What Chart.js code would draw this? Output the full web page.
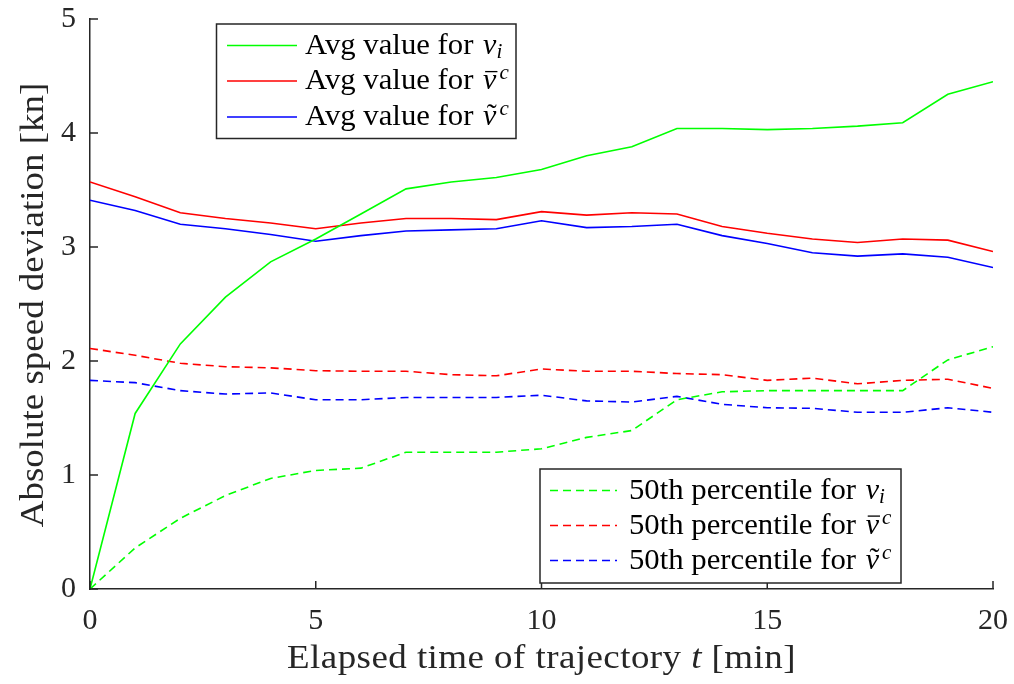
<!DOCTYPE html>
<html>
<head>
<meta charset="utf-8">
<script src="https://cdn.jsdelivr.net/npm/chart.js@4.4.1/dist/chart.umd.min.js"></script>
<style>
  html, body { margin: 0; padding: 0; background: #fff; }
  #wrap { width: 1014px; height: 684px; }
</style>
</head>
<body>
<div id="wrap"><canvas id="c" width="1014" height="684"></canvas></div>
<script>
// ---------- data ----------
const timeMin = [0,1,2,3,4,5,6,7,8,9,10,11,12,13,14,15,16,17,18,19,20];
const avgVi     = [0, 1.54, 2.15, 2.56, 2.87, 3.07, 3.29, 3.51, 3.57, 3.61, 3.68, 3.80, 3.88, 4.04, 4.04, 4.03, 4.04, 4.06, 4.09, 4.34, 4.45];
const avgVbar   = [3.57, 3.44, 3.30, 3.25, 3.21, 3.16, 3.21, 3.25, 3.25, 3.24, 3.31, 3.28, 3.30, 3.29, 3.18, 3.12, 3.07, 3.04, 3.07, 3.06, 2.96];
const avgVtilde = [3.41, 3.32, 3.20, 3.16, 3.11, 3.05, 3.10, 3.14, 3.15, 3.16, 3.23, 3.17, 3.18, 3.20, 3.10, 3.03, 2.95, 2.92, 2.94, 2.91, 2.82];
const p50Vi     = [0, 0.36, 0.62, 0.82, 0.97, 1.04, 1.06, 1.20, 1.20, 1.20, 1.23, 1.33, 1.39, 1.66, 1.73, 1.74, 1.74, 1.74, 1.74, 2.01, 2.125];
const p50Vbar   = [2.11, 2.05, 1.98, 1.95, 1.94, 1.915, 1.91, 1.91, 1.88, 1.87, 1.93, 1.91, 1.91, 1.89, 1.88, 1.83, 1.85, 1.80, 1.83, 1.84, 1.76];
const p50Vtilde = [1.83, 1.81, 1.74, 1.71, 1.72, 1.66, 1.66, 1.68, 1.68, 1.68, 1.70, 1.65, 1.64, 1.69, 1.62, 1.59, 1.585, 1.55, 1.55, 1.59, 1.55];

const xTickValues = [0, 5, 10, 15, 20];
const yTickValues = [0, 1, 2, 3, 4, 5];

const avgLabelText = 'Avg value for ';
const p50LabelText = '50th percentile for ';
const symbolKinds = ['vi', 'vbar', 'vtilde'];
const seriesColors = ['#00ff00', '#ff0000', '#0000ff'];

const xTitleParts = [['Elapsed time of trajectory ', 'normal'], ['t', 'italic'], [' [min]', 'normal']];
const yTitleText = 'Absolute speed deviation [kn]';

// ---------- styling ----------
const FONT = '"Liberation Serif", "Times New Roman", serif';
const AXIS_COLOR = '#262626';
const DASH = [8, 5];
const TITLE_STRETCH = 1.12;
const LEGEND_STRETCH = 1.06;

function series(values, colorIdx, dashed) {
  return {
    data: timeMin.map((t, i) => ({ x: t, y: values[i] })),
    borderColor: seriesColors[colorIdx],
    backgroundColor: seriesColors[colorIdx],
    borderWidth: 1.6,
    borderDash: dashed ? DASH : [],
    pointRadius: 0,
    tension: 0,
    fill: false
  };
}

function drawMath(ctx, x, baseline, kind, size) {
  ctx.textAlign = 'left';
  ctx.textBaseline = 'alphabetic';
  ctx.font = `italic ${size}px ${FONT}`;
  ctx.fillText('v', x, baseline);
  const w = ctx.measureText('v').width;
  if (kind === 'vi') {
    ctx.font = `italic ${Math.round(size * 0.7)}px ${FONT}`;
    ctx.fillText('i', x + w, baseline + 4);
  } else {
    if (kind === 'vbar') {
      ctx.save();
      ctx.strokeStyle = '#000';
      ctx.lineWidth = 1.3;
      ctx.beginPath();
      ctx.moveTo(x + 2, baseline - size * 0.58);
      ctx.lineTo(x + w + 1, baseline - size * 0.58);
      ctx.stroke();
      ctx.restore();
    } else {
      ctx.font = `${size}px ${FONT}`;
      ctx.textAlign = 'center';
      ctx.fillText('\u02DC', x + w / 2 + 2, baseline - 1);
      ctx.textAlign = 'left';
    }
    ctx.font = `italic ${Math.round(size * 0.7)}px ${FONT}`;
    ctx.fillText('c', x + w + 3, baseline - 10);
  }
}

function drawLegendBox(ctx, box, label, dashed, lineX0, lineX1, textX, rowYs) {
  ctx.save();
  ctx.fillStyle = '#fff';
  ctx.fillRect(box.x, box.y, box.w, box.h);
  ctx.strokeStyle = AXIS_COLOR;
  ctx.lineWidth = 1.5;
  ctx.strokeRect(box.x, box.y, box.w, box.h);
  symbolKinds.forEach((kind, i) => {
    const y = rowYs[i];
    ctx.strokeStyle = seriesColors[i];
    ctx.lineWidth = 1.6;
    ctx.setLineDash(dashed ? DASH : []);
    ctx.beginPath();
    ctx.moveTo(lineX0, y);
    ctx.lineTo(lineX1, y);
    ctx.stroke();
    ctx.setLineDash([]);
    ctx.fillStyle = '#000';
    ctx.font = `29px ${FONT}`;
    ctx.textAlign = 'left';
    ctx.textBaseline = 'alphabetic';
    const base = y + 8;
    ctx.save();
    ctx.translate(textX, base);
    ctx.scale(LEGEND_STRETCH, 1);
    ctx.fillText(label, 0, 0);
    const w = ctx.measureText(label).width * LEGEND_STRETCH;
    ctx.restore();
    drawMath(ctx, textX + w + 2, base, kind, 30);
  });
  ctx.restore();
}

const overlayPlugin = {
  id: 'overlay',
  afterDraw(chart) {
    const ctx = chart.ctx;
    const xs = chart.scales.x, ys = chart.scales.y;
    const ca = chart.chartArea;
    ctx.save();
    // inward ticks
    ctx.strokeStyle = AXIS_COLOR;
    ctx.lineWidth = 1.5;
    ctx.beginPath();
    yTickValues.forEach(v => {
      const py = ys.getPixelForValue(v);
      ctx.moveTo(ca.left, py); ctx.lineTo(ca.left + 8, py);
    });
    xTickValues.forEach(v => {
      const px = xs.getPixelForValue(v);
      ctx.moveTo(px, ca.bottom); ctx.lineTo(px, ca.bottom - 8);
    });
    ctx.stroke();

    // legends
    drawLegendBox(ctx, { x: 216.5, y: 24, w: 299.5, h: 114.5 }, avgLabelText, false, 227, 297, 305, [45.5, 81, 117]);
    drawLegendBox(ctx, { x: 540, y: 469, w: 361, h: 114 }, p50LabelText, true, 550, 617, 629, [490.5, 525.5, 560.5]);

    // axis titles
    ctx.fillStyle = '#262626';
    ctx.textBaseline = 'alphabetic';
    ctx.letterSpacing = '0.4px';
    let total = 0;
    const widths = xTitleParts.map(([txt, st]) => {
      ctx.font = `${st === 'italic' ? 'italic ' : ''}33px ${FONT}`;
      const w = ctx.measureText(txt).width;
      total += w;
      return w;
    });
    ctx.save();
    ctx.translate((ca.left + ca.right) / 2 - total * TITLE_STRETCH / 2, 668);
    ctx.scale(TITLE_STRETCH, 1);
    let cx = 0;
    ctx.textAlign = 'left';
    xTitleParts.forEach(([txt, st], i) => {
      ctx.font = `${st === 'italic' ? 'italic ' : ''}33px ${FONT}`;
      ctx.fillText(txt, cx, 0);
      cx += widths[i];
    });
    ctx.restore();

    ctx.letterSpacing = '0px';
    ctx.save();
    ctx.translate(43, (ca.top + ca.bottom) / 2 + 1);
    ctx.rotate(-Math.PI / 2);
    ctx.scale(TITLE_STRETCH, 1);
    ctx.font = `33px ${FONT}`;
    ctx.textAlign = 'center';
    ctx.fillText(yTitleText, 0, 0);
    ctx.restore();
    ctx.restore();
  }
};

new Chart(document.getElementById('c'), {
  type: 'line',
  data: {
    datasets: [
      series(avgVi, 0, false),
      series(avgVbar, 1, false),
      series(avgVtilde, 2, false),
      series(p50Vi, 0, true),
      series(p50Vbar, 1, true),
      series(p50Vtilde, 2, true)
    ]
  },
  options: {
    responsive: false,
    animation: false,
    layout: { padding: { top: 19, right: 21, left: 0, bottom: 0 } },
    plugins: { legend: { display: false }, tooltip: { enabled: false }, title: { display: false } },
    scales: {
      x: {
        type: 'linear',
        min: 0, max: 20,
        afterFit(s) { s.height = 95; s.paddingLeft = 0; s.paddingRight = 0; },
        afterBuildTicks(s) { s.ticks = xTickValues.map(v => ({ value: v })); },
        grid: { display: false, drawTicks: false },
        border: { display: true, color: AXIS_COLOR, width: 1.5 },
        ticks: { color: AXIS_COLOR, font: { family: FONT, size: 30 }, padding: 14, maxRotation: 0 }
      },
      y: {
        type: 'linear',
        min: 0, max: 5,
        afterFit(s) { s.width = 90; s.paddingTop = 0; s.paddingBottom = 0; },
        afterBuildTicks(s) { s.ticks = yTickValues.map(v => ({ value: v })); },
        grid: { display: false, drawTicks: false },
        border: { display: true, color: AXIS_COLOR, width: 1.5 },
        ticks: { color: AXIS_COLOR, font: { family: FONT, size: 30 }, padding: 14 }
      }
    }
  },
  plugins: [overlayPlugin]
});
</script>
</body>
</html>
